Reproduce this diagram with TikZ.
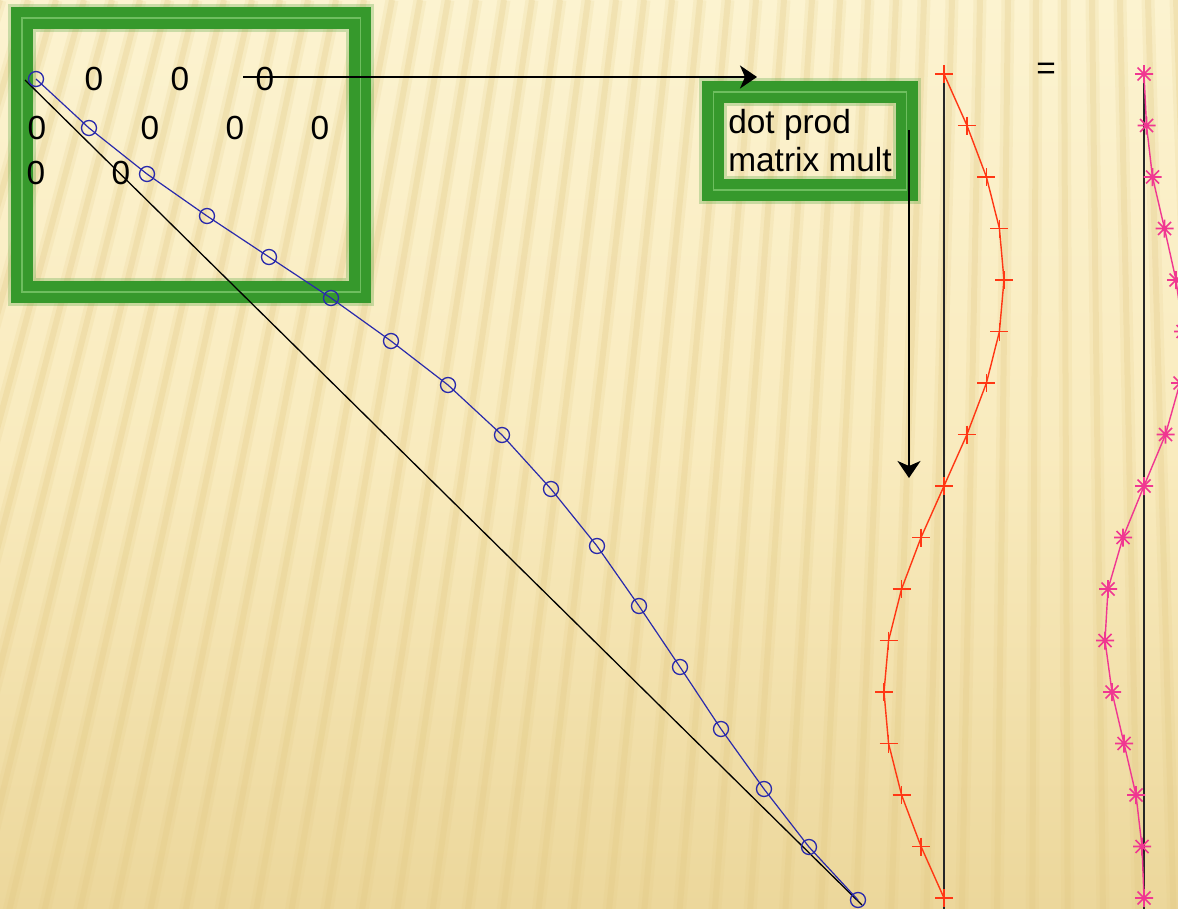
\documentclass[tikz,border=0pt]{standalone}
\usepackage{fontspec}
\setmainfont{Liberation Sans}
\usetikzlibrary{arrows.meta}

\definecolor{boxgreen}{RGB}{54,153,44}
\definecolor{boxrim}{RGB}{110,190,95}
\definecolor{circblue}{RGB}{42,42,172}
\definecolor{plusred}{RGB}{255,55,20}
\definecolor{starpink}{RGB}{240,55,145}
\definecolor{paperhi}{RGB}{252,243,208}
\definecolor{papermid}{RGB}{249,235,190}
\definecolor{paperlo}{RGB}{236,215,155}
\definecolor{stripe}{RGB}{226,200,130}

\begin{document}
\begin{tikzpicture}[x=0.01cm,y=-0.01cm,
  font=\fontsize{9.5}{10.8}\selectfont,
  greenbox/.style={draw=boxgreen, line width=0.22cm, inner sep=0pt,
    preaction={draw=boxgreen, draw opacity=0.25, line width=0.28cm},
    postaction={draw=boxrim, line width=0.012cm}},
  zero/.style={inner sep=0pt},
  arr/.style={-{Stealth[length=0.17cm,width=0.23cm,inset=0.05cm]}, line width=0.022cm},
  ring/.style={circle, draw=circblue, line width=0.013cm, minimum size=0.15cm, inner sep=0pt},
  plusmark/.style={draw=plusred, line width=0.018cm},
  starmark/.style={draw=starpink, line width=0.017cm},
  axisline/.style={draw=black!85, line width=0.013cm}]
\useasboundingbox (0,0) rectangle (1178,909);
\clip (0,0) rectangle (1178,909);

% paper and stripes
\fill[top color=paperhi, bottom color=paperlo, middle color=papermid] (0,0) rectangle (1178,909);
\foreach \sx in {0,28,...,1260}{
  \pgfmathsetmacro\ex{\sx+(\sx-1050)*0.2714}
  \draw[stripe, line width=0.13cm, opacity=0.16] (\sx,0) -- (\ex,950);
  \draw[stripe, line width=0.06cm, opacity=0.26] (\sx,0) -- (\ex,950);
}

% the two boxes
\node[greenbox, minimum width=3.38cm, minimum height=2.74cm] (mat) at (191,155) {};
\node[greenbox, minimum width=1.93cm, minimum height=0.98cm, align=left] (prod) at (810,141)
  {dot prod\\matrix mult};

% diagonal and its curve
\coordinate (d0) at (25,80);
\coordinate (d1) at (862,905);
\draw[black, line width=0.013cm] (d0) -- (d1);
\foreach \bx/\by [count=\k from 0] in {36/79, 89/128, 147/174, 207/216, 269/257,
    331/298, 391/341, 448/385, 502/435, 551/489, 597/546, 639/606, 680/667,
    721/729, 764/789, 809/847, 858/900}
  \coordinate (b\k) at (\bx,\by);
\draw[circblue, line width=0.012cm] (b0) \foreach \k in {1,...,16}{ -- (b\k)};
\foreach \k in {0,...,16}
  \node[ring] (bc\k) at (b\k) {};

% zeros
\node[zero] (z12) at (94,79) {0};
\node[zero] (z13) at (180,79) {0};
\node[zero] (z14) at (265,79) {0};
\node[zero] (z21) at (37,128) {0};
\node[zero] (z22) at (150,128) {0};
\node[zero] (z23) at (235,128) {0};
\node[zero] (z24) at (320,128) {0};
\node[zero] (z31) at (36,173) {0};
\node[zero] (z32) at (121,173) {0};

% arrows
\coordinate (hs) at (243,77);
\coordinate (he) at (757,77);
\draw[arr] (hs) -- (he);
\coordinate (vs) at (909,130);
\coordinate (ve) at (909,478);
\draw[arr] (vs) -- (ve);

% red wave
\foreach \k in {0,...,16}
  \coordinate (r\k) at ({944+60*sin(22.5*\k)},{74+51.5*\k});
\coordinate (rbot) at (944,912);
\draw[axisline] (r0) -- (rbot);
\draw[plusred, line width=0.014cm] (r0) \foreach \k in {1,...,16}{ -- (r\k)};
\foreach \k in {0,...,16}
  \draw[plusmark] (r\k) ++(-9,0) -- ++(18,0) (r\k) ++(0,-9) -- ++(0,18);

\node (eq) at (1046,71) {=};

% pink wave
\foreach \v [count=\k from 0] in {0,2.5,8.5,20.5,32,39,36,21.5,0,-21,-36,-39,-32,-20,-8,-2,0}
  \coordinate (p\k) at ({1144+\v},{74+51.5*\k});
\coordinate (pbot) at (1144,912);
\draw[axisline] (p0) -- (pbot);
\draw[starpink, line width=0.014cm] (p0) \foreach \k in {1,...,16}{ -- (p\k)};
\foreach \k in {0,...,16}
  \draw[starmark] (p\k) ++(-9,0) -- ++(18,0) (p\k) ++(0,-9) -- ++(0,18)
    (p\k) ++(-6.5,-6.5) -- ++(13,13) (p\k) ++(-6.5,6.5) -- ++(13,-13);
\end{tikzpicture}
\end{document}
